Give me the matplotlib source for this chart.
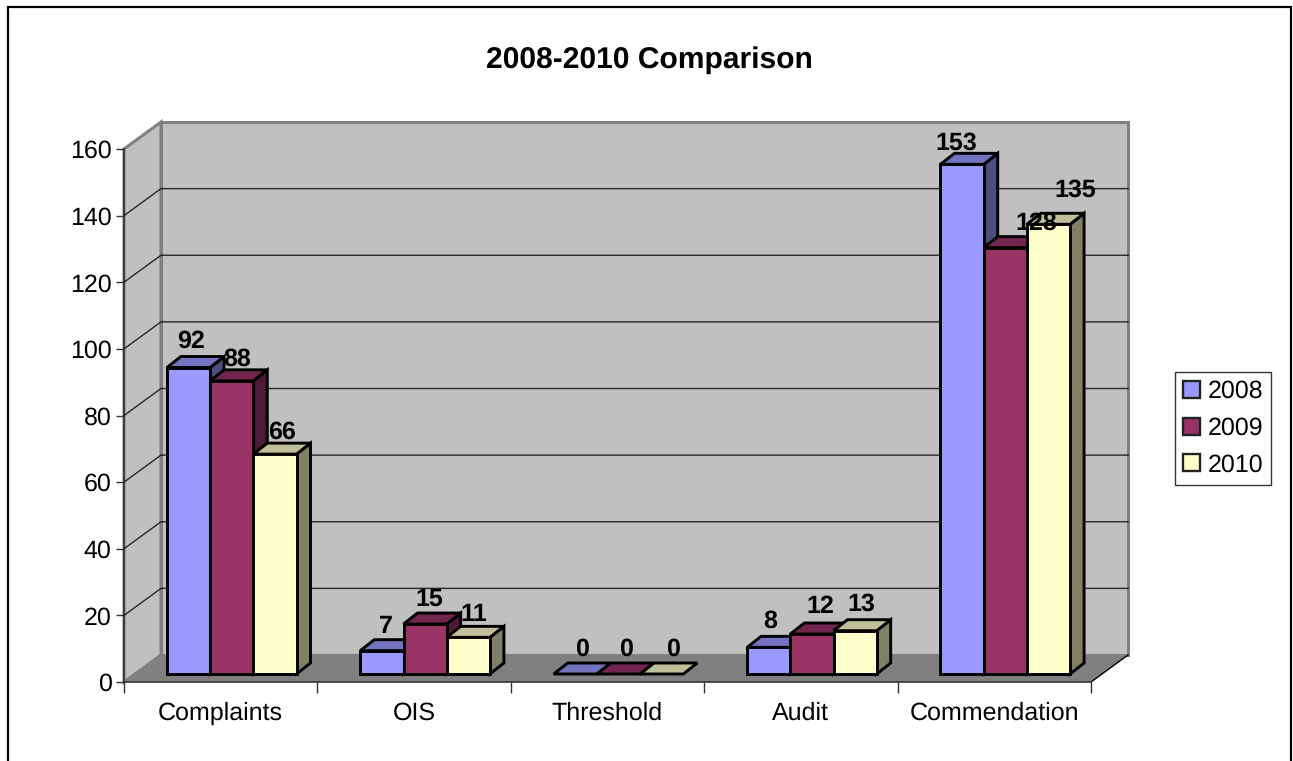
import matplotlib
matplotlib.use('Agg')
import matplotlib.pyplot as plt
from matplotlib.patches import Polygon, Patch

categories = ['Complaints', 'OIS', 'Threshold', 'Audit', 'Commendation']
years = ['2008', '2009', '2010']
v2008 = [92, 7, 0, 8, 153]
v2009 = [88, 15, 0, 12, 128]
v2010 = [66, 11, 0, 13, 135]
yticks = [0, 20, 40, 60, 80, 100, 120, 140, 160]

front = ['#9999FF', '#993366', '#FFFFCC']
top = ['#7373BF', '#73264D', '#BFBF99']
side = ['#4D4D80', '#4D1A33', '#808066']

# label shifts from the bar centre, in pixels (they were moved by hand in the original)
nudge_x = [[3, 5, 7], [4, 4, 6], [7, 7, 11], [1, 8, 6], [-6, 31, 27]]
nudge_y = [[26, 22, 22], [24, 25, 23], [25, 25, 25], [26, 27, 26], [21, 24, 34]]

plt.rcParams['font.family'] = ['Liberation Sans', 'DejaVu Sans']
plt.rcParams['text.hinting'] = 'no_hinting'
plt.rcParams['text.hinting_factor'] = 1

W, H = 1293, 761
fig = plt.figure(figsize=(W / 100, H / 100), dpi=100)
ax = fig.add_axes([124 / W, (H - 682) / H, 967 / W, 533 / H])
ax.set_xlim(0, 5)
ax.set_ylim(0, 160)
ax.patch.set_visible(False)

# pixels to data units
px = 5 / 967
py = 160 / 533
dx, dy = 37 * px, 27 * py


def poly(pts, fc, ec='none', lw=0, z=1):
    ax.add_patch(Polygon(pts, closed=True, facecolor=fc, edgecolor=ec, linewidth=lw,
                         zorder=z, clip_on=False, joinstyle='miter'))


# walls and floor
poly([(dx, dy), (5 + dx, dy), (5 + dx, 160 + dy), (dx, 160 + dy)], '#C0C0C0', '#808080', 2.2)
poly([(0, 0), (dx, dy), (dx, 160 + dy), (0, 160)], '#C0C0C0', '#808080', 2.2)
poly([(0, 0), (5, 0), (5 + dx, dy), (dx, dy)], '#808080')

for t in yticks[1:-1]:
    ax.plot([0, dx, 5 + dx], [t, t + dy, t + dy], color='black', lw=1.0, zorder=2,
            clip_on=False, alpha=0.8, solid_joinstyle='miter')
ax.plot([5, 5 + dx], [0, dy], color='black', lw=1.0, zorder=2, clip_on=False)

# bars
bw = 43.2 * px
ox, oy = 11 * px, 8 * py
bx, by = 14 * px, 11 * py
series = [v2008, v2009, v2010]
for i in range(len(categories)):
    for s in range(3):
        v = series[s][i]
        x0 = i + 0.5 - 1.5 * bw + s * bw + ox
        x1 = x0 + bw
        y0 = oy
        y1 = oy + v
        if v > 0:
            poly([(x1, y0), (x1 + bx, y0 + by), (x1 + bx, y1 + by), (x1, y1)], side[s], 'black', 2.1, 3)
        poly([(x0, y1), (x1, y1), (x1 + bx, y1 + by), (x0 + bx, y1 + by)], top[s], 'black', 2.1, 3)
        if v > 0:
            poly([(x0, y0), (x1, y0), (x1, y1), (x0, y1)], front[s], 'black', 2.1, 3)
        ax.text((x0 + x1) / 2 + nudge_x[i][s] * px, y1 + nudge_y[i][s] * py, str(v),
                ha='center', va='center', fontsize=18, fontweight='bold', zorder=5)

# axes
for k in ['top', 'right']:
    ax.spines[k].set_visible(False)
for k in ['left', 'bottom']:
    ax.spines[k].set_color('#333333')
    ax.spines[k].set_linewidth(1.2)
    ax.spines[k].set_zorder(4)
ax.set_yticks(yticks)
ax.set_xticks(range(6))
ax.set_xticklabels([])
ax.set_xticks([i + 0.5 for i in range(5)], minor=True)
ax.set_xticklabels(categories, minor=True)
ax.tick_params(axis='x', which='minor', length=0, labelsize=18, pad=14.2)
ax.tick_params(axis='x', which='major', length=8, width=1, color='#333333')
ax.tick_params(axis='y', length=6, width=1, color='#333333', labelsize=18, pad=3)

fig.text(649 / W, 1 - 60 / H, '2008-2010 Comparison', ha='center', va='center',
         fontsize=21.85, fontweight='bold')

handles = [Patch(facecolor=front[s], edgecolor='#222222', linewidth=1.7) for s in range(3)]
leg = fig.legend(handles, years, loc='center', bbox_to_anchor=(1223 / W, 1 - 428.5 / H),
                 fontsize=18, fancybox=False, framealpha=1, edgecolor='#333333',
                 handlelength=0.67, handleheight=0.67, handletextpad=0.3,
                 labelspacing=0.54, borderpad=0.32, borderaxespad=0)
leg.get_frame().set_linewidth(1.0)

# chart border, open at the bottom
fig.add_artist(plt.Line2D([8 / W, 8 / W, 1291 / W, 1291 / W], [0, 1 - 7 / H, 1 - 7 / H, 0],
                          color='black', lw=1.6, solid_joinstyle='miter'))

fig.savefig('out.png', dpi=100)
